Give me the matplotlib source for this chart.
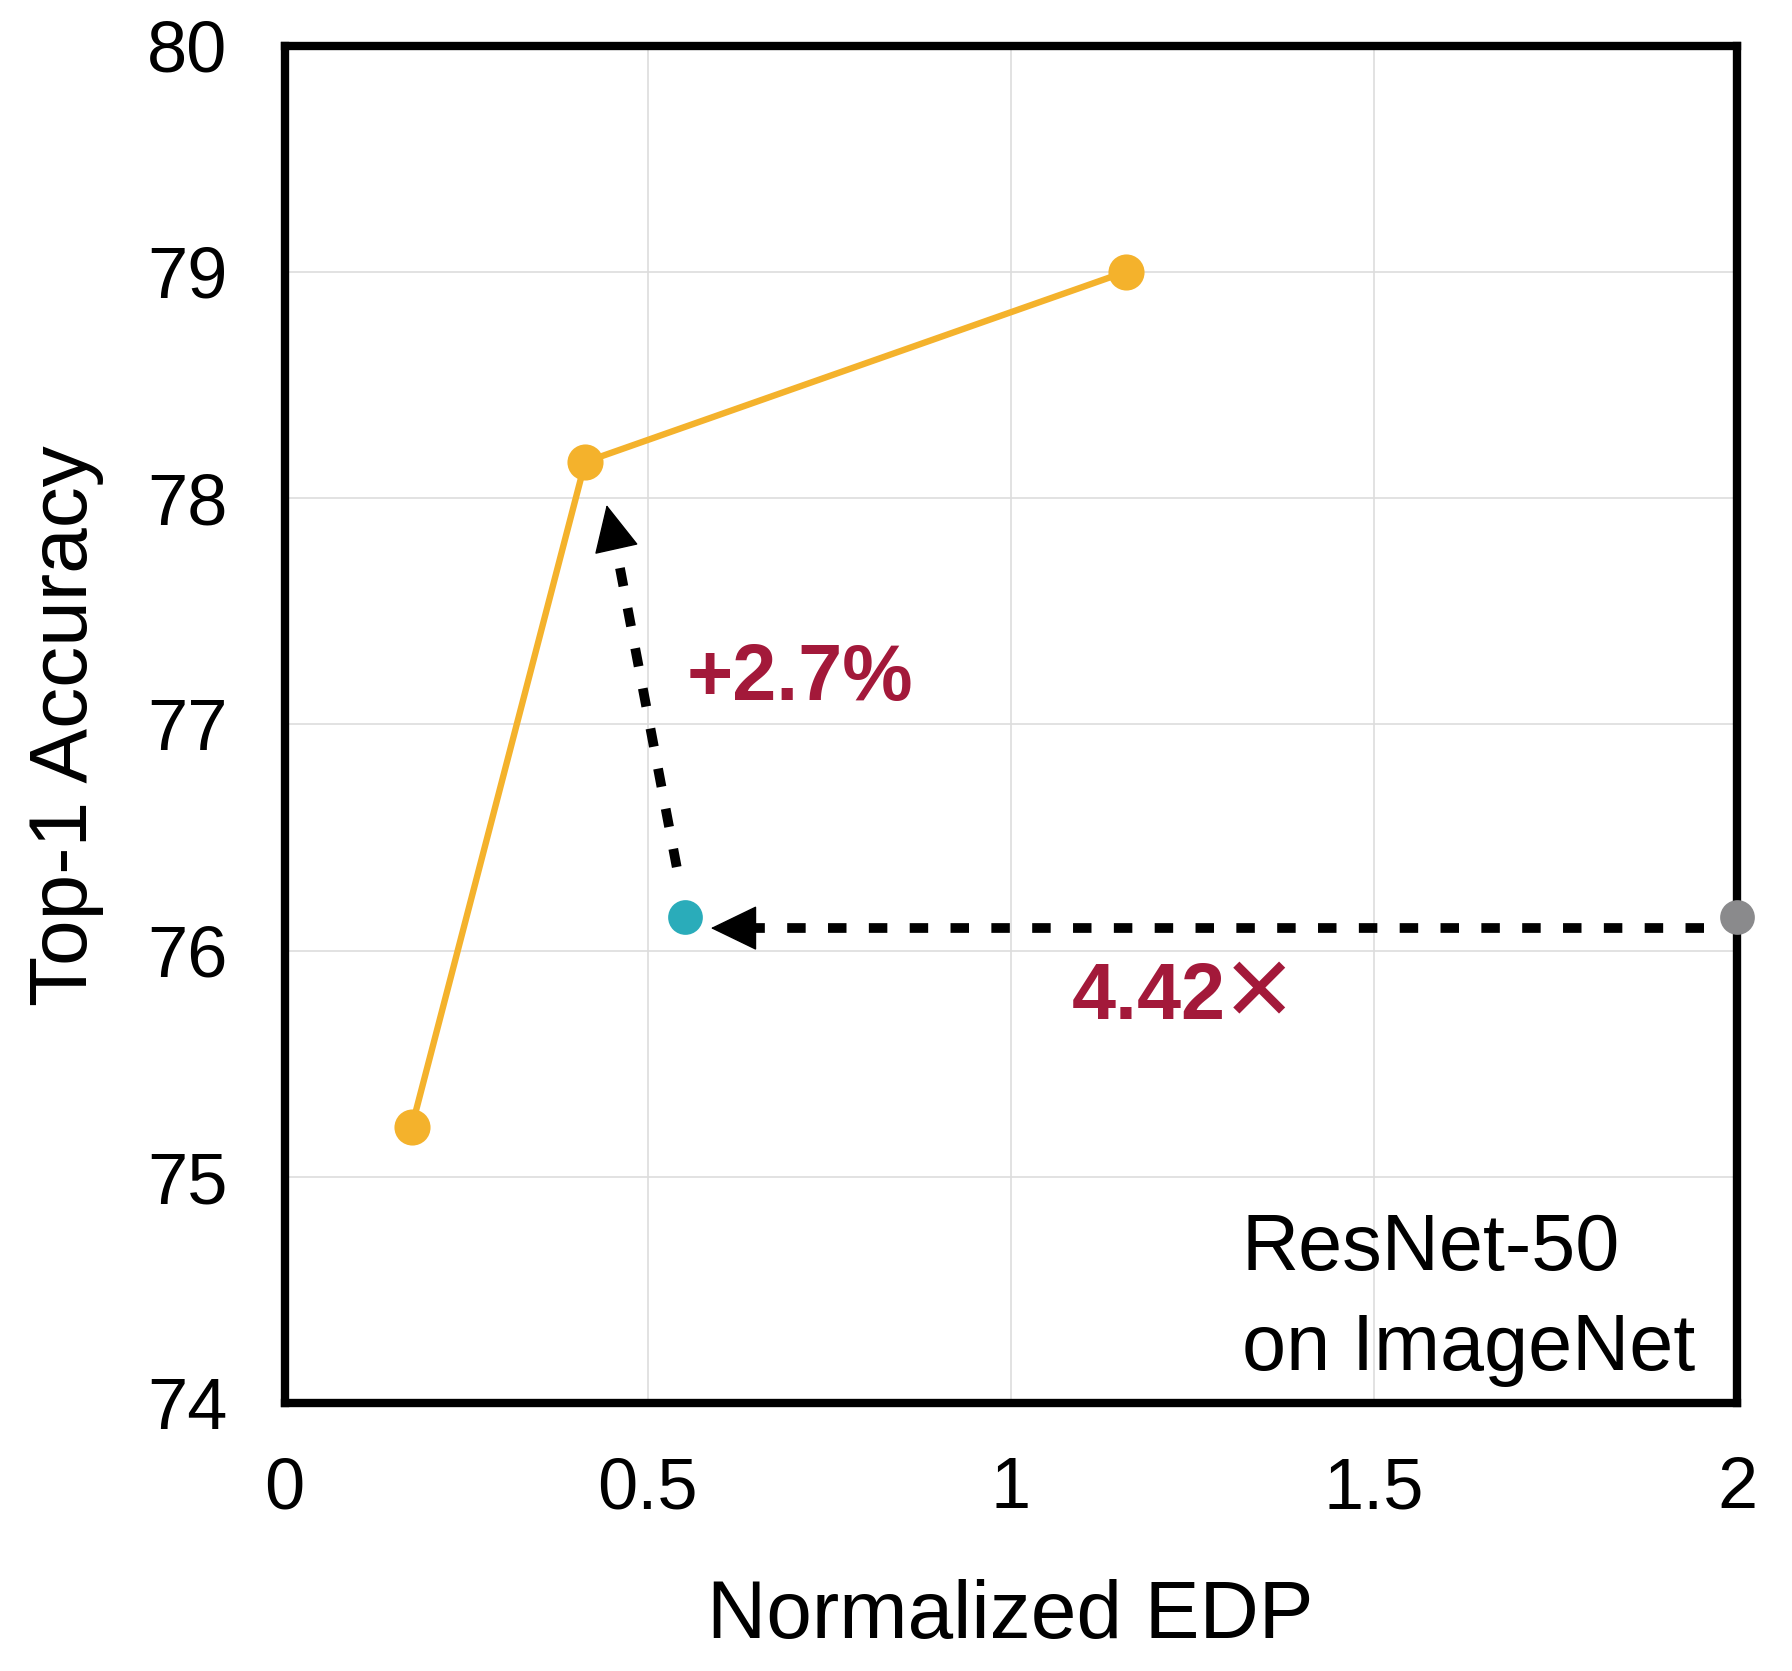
import matplotlib
matplotlib.use("Agg")
import matplotlib.pyplot as plt
from matplotlib.patches import FancyArrowPatch

plt.rcParams['font.family'] = ['Liberation Sans', 'DejaVu Sans']

# Pareto curve of scaled models (Normalized EDP vs Top-1 accuracy)
curve_edp = [0.175, 0.414, 1.158]
curve_acc = [75.22, 78.16, 79.00]

# Optimized model and the baseline ResNet-50
opt_edp, opt_acc = 0.551, 76.15
base_edp, base_acc = 2.0, 76.15

x_ticks = [0, 0.5, 1, 1.5, 2]
x_tick_labels = ["0", "0.5", "1", "1.5", "2"]
y_ticks = [74, 75, 76, 77, 78, 79, 80]

ORANGE = "#F4B22C"
TEAL = "#2AACBA"
GRAY = "#8A8A8C"
RED = "#A3193A"

fig = plt.figure(figsize=(17.92, 16.71), dpi=100)
ax = fig.add_axes([0.1588, 0.1602, 0.8105, 0.8125])

ax.set_xlim(0, 2)
ax.set_ylim(74, 80)
ax.set_xticks(x_ticks)
ax.set_xticklabels(x_tick_labels)
ax.set_yticks(y_ticks)
ax.tick_params(axis='both', length=0, labelsize=52)
ax.tick_params(axis='y', pad=41)
ax.tick_params(axis='x', pad=38)
ax.grid(True, color="#DDDDDD", linewidth=1.2)
ax.set_axisbelow(True)
for s in ax.spines.values():
    s.set_linewidth(6)
    s.set_color("black")

# Pareto curve
ax.plot(curve_edp, curve_acc, color=ORANGE, linewidth=4.6, marker='o',
        markersize=26, markeredgewidth=0, zorder=3)

# Optimized and baseline points
ax.plot([opt_edp], [opt_acc], 'o', color=TEAL, markersize=25,
        markeredgewidth=0, zorder=5)
ax.plot([base_edp], [base_acc], 'o', color=GRAY, markersize=25,
        markeredgewidth=0, zorder=5, clip_on=False)

dash = (0, (1.9, 2.3))

# Horizontal arrow: EDP reduction from the baseline to the optimized model
h_y = base_acc - 0.05
h_tip = opt_edp + 0.036
h_base = h_tip + 0.059
ax.plot([base_edp - 0.045, h_base], [h_y, h_y], color="black", linewidth=7,
        linestyle=dash, dash_capstyle='butt', zorder=4)
ax.add_patch(FancyArrowPatch((h_base, h_y), (h_tip, h_y),
                             arrowstyle='-|>,head_length=1.55,head_width=0.75',
                             mutation_scale=20, color="black", linewidth=1,
                             shrinkA=0, shrinkB=0, zorder=4))

# Sloped arrow: accuracy gain from the optimized model up to the curve
v_start = (opt_edp - 0.011, opt_acc + 0.22)
v_tip = (curve_edp[1] + 0.0295, curve_acc[1] - 0.19)
v_base = (curve_edp[1] + 0.042, curve_acc[1] - 0.37)
ax.plot([v_start[0], v_base[0]], [v_start[1], v_base[1]], color="black",
        linewidth=7, linestyle=dash, dash_capstyle='butt', zorder=4)
ax.add_patch(FancyArrowPatch(v_base, v_tip,
                             arrowstyle='-|>,head_length=1.55,head_width=0.75',
                             mutation_scale=20, color="black", linewidth=1,
                             shrinkA=0, shrinkB=0, zorder=4))

# Annotations
ax.text(0.5537, 77.11, "+2.7%", color=RED, fontsize=57, fontweight='bold',
        ha='left', va='baseline')
ax.text(1.0843, 75.70, "4.42", color=RED, fontsize=57, fontweight='bold',
        ha='left', va='baseline')
ax.text(1.3420, 75.80, "✕", color=RED, fontsize=64, family='DejaVu Sans',
        ha='center', va='center')
ax.text(1.318, 74.59, "ResNet-50", color="black", fontsize=57,
        ha='left', va='baseline')
ax.text(1.318, 74.147, "on ImageNet", color="black", fontsize=57,
        ha='left', va='baseline')

# Axis titles
fig.text(0.5636, 1 - 1638 / 1671, "Normalized EDP", fontsize=59,
         ha='center', va='baseline')
fig.text(87 / 1792, 1 - 726 / 1671, "Top-1 Accuracy", fontsize=59,
         ha='center', va='baseline', rotation=90, rotation_mode='anchor')

fig.savefig("out.png", dpi=100)
